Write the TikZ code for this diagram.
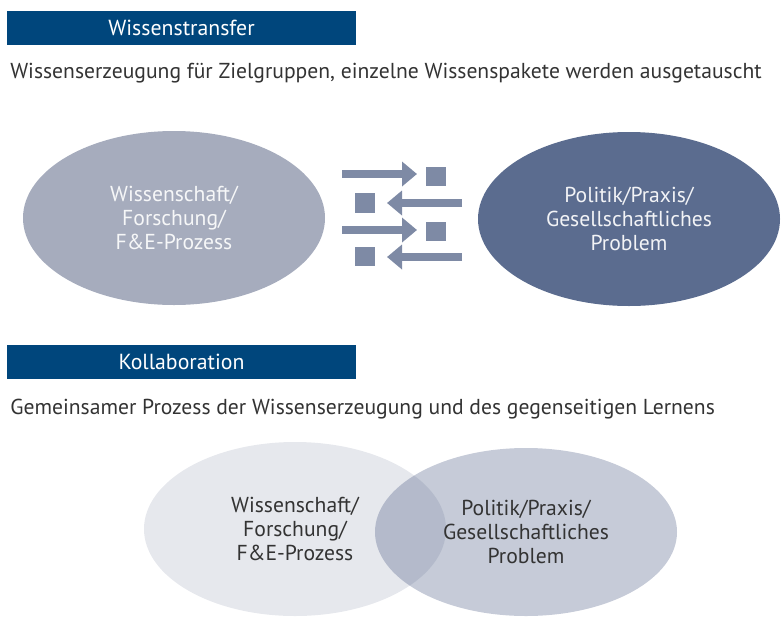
\documentclass[tikz,border=0pt]{standalone}
\usepackage{fontspec}
\setmainfont{PT Sans}
\usetikzlibrary{shapes.geometric,arrows.meta}
\definecolor{barblue}{HTML}{00467C}
\definecolor{wissgray}{HTML}{A6ACBD}
\definecolor{polblue}{HTML}{5B6C8F}
\definecolor{icongray}{HTML}{7E8AA5}
\definecolor{kollleft}{HTML}{E6E8ED}
\definecolor{kollright}{HTML}{41527D}
\begin{document}
\begin{tikzpicture}[
  bar/.style={fill=barblue,text=white,minimum width=6.98cm,minimum height=0.68cm,inner sep=0pt,font=\fontsize{12.4}{14}\selectfont},
  subline/.style={anchor=west,inner sep=0pt,text=black!80,font=\fontsize{12.3}{14}\selectfont},
  blob/.style={ellipse,minimum width=6.04cm,minimum height=3.48cm,inner sep=0pt,align=center,font=\fontsize{12.3}{13.6}\selectfont},
  swap/.style={icongray,line width=0.16cm,-{Triangle[width=0.48cm,length=0.3cm]}},
  tile/.style={fill=icongray}
]
\useasboundingbox (0,0) rectangle (15.62,12.34);
%\draw[step=0.5cm,gray,very thin] (0,0) grid (15.62,12.34); %background grid
% Wissenstransfer
\node[bar] (transfer) at (3.63,11.78) {Wissenstransfer};
\node[subline] (transfertext) at (0.2,10.88) {Wissenserzeugung für Zielgruppen, einzelne Wissenspakete werden ausgetauscht};
\node[blob,fill=wissgray,text=white!90!wissgray] (wiss) at (3.48,7.98) {Wissenschaft/\\Forschung/\\F\&E-Prozess};
\node[blob,fill=polblue,text=white!92!polblue] (pol) at (12.58,7.96) {Politik/Praxis/\\Gesellschaftliches\\Problem};
\coordinate (r1a) at (6.84,8.86); \coordinate (r1b) at (8.34,8.86);
\coordinate (l1a) at (9.24,8.28); \coordinate (l1b) at (7.74,8.28);
\coordinate (r2a) at (6.84,7.74); \coordinate (r2b) at (8.34,7.74);
\coordinate (l2a) at (9.24,7.20); \coordinate (l2b) at (7.74,7.20);
\draw[swap] (r1a) -- (r1b); \fill[tile] (8.52,8.62) rectangle (8.92,9.00);
\draw[swap] (l1a) -- (l1b); \fill[tile] (7.10,8.08) rectangle (7.50,8.48);
\draw[swap] (r2a) -- (r2b); \fill[tile] (8.52,7.52) rectangle (8.92,7.90);
\draw[swap] (l2a) -- (l2b); \fill[tile] (7.10,7.02) rectangle (7.50,7.40);
% Kollaboration
\node[bar] (kollab) at (3.63,5.11) {Kollaboration};
\node[subline] (kollabtext) at (0.2,4.16) {Gemeinsamer Prozess der Wissenserzeugung und des gegenseitigen Lernens};
\node[blob,fill=kollleft,text=black!80] (kwiss) at (5.90,1.76) {Wissenschaft/\\Forschung/\\F\&E-Prozess};
\node[blob,minimum height=3.36cm,fill=kollright,fill opacity=0.3,text opacity=1,text=black!80] (kpol) at (10.52,1.70) {Politik/Praxis/\\Gesellschaftliches\\Problem};
\end{tikzpicture}
\end{document}
